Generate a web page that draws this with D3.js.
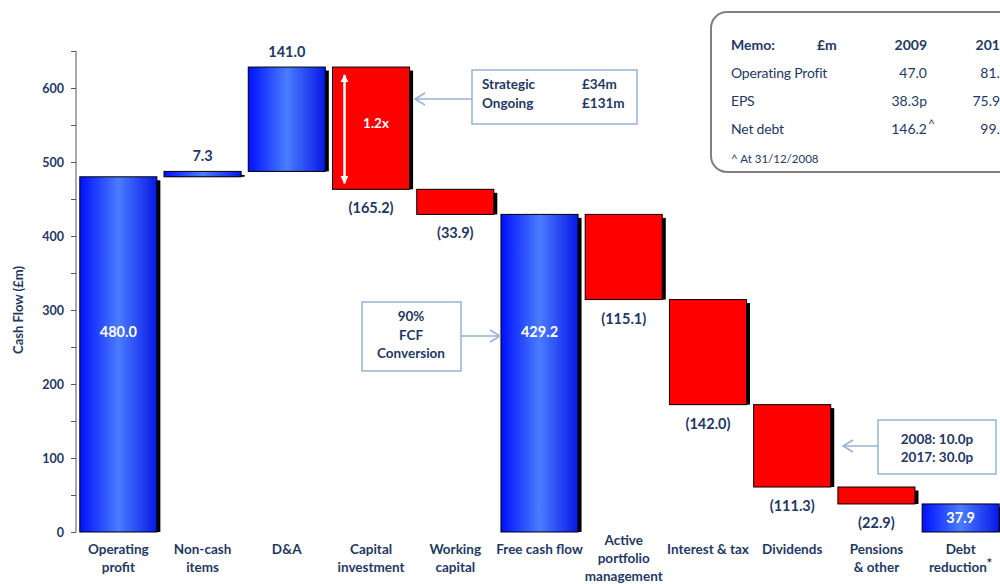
<!DOCTYPE html>
<html>
<head>
<meta charset="utf-8">
<script src="https://cdn.jsdelivr.net/npm/d3@7"></script>
<style>
  body{margin:0;background:#fff;}
  svg{display:block;}
  text{font-family:Lato,"Open Sans",sans-serif;}
</style>
</head>
<body>
<svg id="root"></svg>
<script>
var width = 1000;
var height = 584;
var navy = '#1f3864';

// chart data
var categories = [['Operating','profit'],['Non-cash','items'],['D&A'],['Capital','investment'],['Working','capital'],
  ['Free cash flow'],['Active','portfolio','management'],['Interest & tax'],['Dividends'],['Pensions','& other'],['Debt','reduction']];
var values = [480.0, 7.3, 141.0, -165.2, -33.9, 429.2, -115.1, -142.0, -111.3, -22.9, 37.9];
var isTotal = [true, false, false, false, false, true, false, false, false, false, true];
var yTicks = [0,100,200,300,400,500,600];

// memo table
var memoRows = ['Operating Profit','EPS','Net debt'];
var memo2009 = ['47.0','38.3p','146.2'];
var memo2017 = ['81.3','75.9p','99.0'];

// callouts
var capexNotes = [['Strategic','£34m'],['Ongoing','£131m']];
var fcfNote = ['90%','FCF','Conversion'];
var divNote = ['2008: 10.0p','2017: 30.0p'];

var svg = d3.select('#root').attr('width',width).attr('height',height)

// build waterfall steps
var steps = [];
var running = 0;
values.forEach(function(v,i){
  var s, e;
  if(isTotal[i]){ s = 0; e = v; running = v; }
  else { s = running; e = running + v; running = e; }
  steps.push({i:i, v:v, lo:Math.min(s,e), hi:Math.max(s,e), total:isTotal[i]});
});

var x = d3.scaleBand().domain(d3.range(categories.length)).range([76,1003]).paddingInner(0.085).paddingOuter(0.045);
var y = d3.scaleLinear().domain([0,650]).range([532,51]);

var defs = svg.append('defs');
var grad = defs.append('linearGradient').attr('id','blueGrad').attr('x1','0').attr('x2','1').attr('y1','0').attr('y2','0');
grad.append('stop').attr('offset','0%').attr('stop-color','#0010ff');
grad.append('stop').attr('offset','50%').attr('stop-color','#4a7cff');
grad.append('stop').attr('offset','100%').attr('stop-color','#0818e6');

var mk = defs.append('marker').attr('id','whiteHead').attr('viewBox','0 0 10 10').attr('refX',9).attr('refY',5)
  .attr('markerWidth',3.2).attr('markerHeight',3.2).attr('orient','auto-start-reverse').attr('markerUnits','strokeWidth');
mk.append('path').attr('d','M0,0 L10,5 L0,10 Z').attr('fill','#fff');

// y axis
var yaxis = d3.axisLeft(y).tickValues(d3.range(0,651,50)).tickSize(5).tickFormat(function(d){ return yTicks.indexOf(d) >= 0 ? d : ''; });
var ag = svg.append('g').attr('transform','translate(76,0)').call(yaxis);
ag.select('.domain').attr('stroke','#555').attr('d','M0,51V532');
ag.selectAll('.tick line').attr('stroke','#555');
ag.selectAll('.tick text').attr('fill',navy).attr('font-size',12.5).attr('font-weight','bold').attr('font-family','Lato').attr('x',-12);

svg.append('text').attr('transform','translate(23,310) rotate(-90)').attr('text-anchor','middle')
  .attr('font-size',13).attr('font-weight','bold').attr('fill',navy).text('Cash Flow (£m)');

// bars: shadow then bar
var bars = svg.append('g');
bars.selectAll('rect.shadow').data(steps).enter().append('rect').attr('class','shadow')
  .attr('x',function(d){ return x(d.i)+3.5; })
  .attr('y',function(d){ return y(d.hi)+3.5; })
  .attr('width',x.bandwidth())
  .attr('height',function(d){ return Math.max(0,y(d.lo)-y(d.hi)-3.5); })
  .attr('fill','#000');
bars.selectAll('rect.bar').data(steps).enter().append('rect').attr('class','bar')
  .attr('x',function(d){ return x(d.i); })
  .attr('y',function(d){ return y(d.hi); })
  .attr('width',x.bandwidth())
  .attr('height',function(d){ return y(d.lo)-y(d.hi); })
  .attr('fill',function(d){ return d.v < 0 ? '#ff0000' : 'url(#blueGrad)'; })
  .attr('stroke','#000').attr('stroke-width',1);

// value labels
var fmt = function(v){ return v < 0 ? '(' + Math.abs(v).toFixed(1) + ')' : v.toFixed(1); };
svg.append('g').selectAll('text').data(steps).enter().append('text')
  .attr('x',function(d){ return x(d.i)+x.bandwidth()/2; })
  .attr('y',function(d){
    if(d.total){
      var h = y(d.lo)-y(d.hi);
      return h > 100 ? y(270) + 5 : (y(d.lo)+y(d.hi))/2 + 5;
    }
    if(d.v < 0) return y(d.lo) + 24;
    return y(d.hi) - 10;
  })
  .attr('text-anchor','middle').attr('font-size',14.5).attr('font-weight','bold')
  .attr('fill',function(d){ return d.total ? '#fff' : navy; })
  .text(function(d){ return fmt(d.v); });

// category labels
var cat = svg.append('g').selectAll('text').data(categories).enter().append('text')
  .attr('text-anchor','middle').attr('font-size',13.5).attr('font-weight','bold').attr('fill',navy)
  .attr('transform',function(d,i){ return 'translate(' + (x(i)+x.bandwidth()/2) + ',' + (554 - Math.max(0,d.length-2)*9) + ')'; });
cat.selectAll('tspan').data(function(d){ return d; }).enter().append('tspan')
  .attr('x',0).attr('dy',function(d,j){ return j ? 18 : 0; }).text(function(d){ return d; });
cat.filter(function(d,i){ return i == categories.length-1; }).select('tspan:last-child')
  .append('tspan').attr('dy',-4).text('*');

// 1.2x arrow in capex bar
var cx = x(3)+12;
svg.append('line').attr('x1',cx).attr('x2',cx).attr('y1',y(steps[3].hi)+8).attr('y2',y(steps[3].lo)-6)
  .attr('stroke','#fff').attr('stroke-width',2.5).attr('marker-start','url(#whiteHead)').attr('marker-end','url(#whiteHead)');
svg.append('text').attr('x',x(3)+x.bandwidth()/2+5).attr('y',128).attr('text-anchor','middle')
  .attr('font-size',13.5).attr('font-weight','bold').attr('fill','#fff').text('1.2x');

// callout helper
var calloutColor = '#95b3d7';
function callout(bx,by,bw,bh,ax,ay){
  svg.append('rect').attr('x',bx).attr('y',by).attr('width',bw).attr('height',bh)
    .attr('fill','#fff').attr('stroke',calloutColor).attr('stroke-width',1.5);
  var tipRight = ax < bx;
  var from = tipRight ? bx : bx+bw;
  svg.append('line').attr('x1',from).attr('x2',ax).attr('y1',ay).attr('y2',ay).attr('stroke',calloutColor).attr('stroke-width',1.5);
  var dir = tipRight ? 1 : -1;
  svg.append('path').attr('d','M'+(ax+dir*10)+','+(ay-6)+'L'+ax+','+ay+'L'+(ax+dir*10)+','+(ay+6))
    .attr('fill','none').attr('stroke',calloutColor).attr('stroke-width',1.5);
}

callout(472,70,165,54,415,99);
svg.append('g').selectAll('text').data(capexNotes).enter().append('g')
  .each(function(d,i){
    d3.select(this).append('text').attr('x',482).attr('y',89+i*19).attr('font-size',13.5).attr('font-weight','bold').attr('fill',navy).text(d[0]);
    d3.select(this).append('text').attr('x',582).attr('y',89+i*19).attr('font-size',13.5).attr('font-weight','bold').attr('fill',navy).text(d[1]);
  });

callout(362,302,99,69,500,336);
svg.append('g').selectAll('text').data(fcfNote).enter().append('text')
  .attr('x',411).attr('y',function(d,i){ return 321+i*18.5; }).attr('text-anchor','middle')
  .attr('font-size',13.5).attr('font-weight','bold').attr('fill',navy).text(function(d){ return d; });

callout(878,420,118,54,843,446);
svg.append('g').selectAll('text').data(divNote).enter().append('text')
  .attr('x',937).attr('y',function(d,i){ return 444+i*18; }).attr('text-anchor','middle')
  .attr('font-family','"Liberation Sans",Arial,sans-serif')
  .attr('font-size',13.5).attr('font-weight','bold').attr('fill',navy).text(function(d){ return d; });

// memo box (right side runs past the page edge, as in the source slide)
var memo = svg.append('g');
memo.append('rect').attr('x',711).attr('y',12).attr('width',320).attr('height',160).attr('rx',16)
  .attr('fill','#fff').attr('stroke','#7f7f7f').attr('stroke-width',2);
var arial = '"Liberation Sans",Arial,sans-serif';
memo.append('text').attr('x',731).attr('y',50).attr('font-family',arial).attr('font-size',14).attr('font-weight','bold').attr('fill',navy).text('Memo:');
memo.append('text').attr('x',817).attr('y',50).attr('font-family',arial).attr('font-size',14).attr('font-weight','bold').attr('fill',navy).text('£m');
memo.append('text').attr('x',927).attr('y',50).attr('text-anchor','end').attr('font-family',arial).attr('font-size',14).attr('font-weight','bold').attr('fill',navy).text('2009');
memo.append('text').attr('x',1008).attr('y',50).attr('text-anchor','end').attr('font-family',arial).attr('font-size',14).attr('font-weight','bold').attr('fill',navy).text('2017');
memoRows.forEach(function(r,i){
  var yy = 78 + i*28;
  memo.append('text').attr('x',731).attr('y',yy).attr('font-family',arial).attr('font-size',14).attr('letter-spacing',-0.2).attr('fill',navy).text(r);
  memo.append('text').attr('x',927).attr('y',yy).attr('text-anchor','end').attr('font-family',arial).attr('font-size',14).attr('fill',navy).text(memo2009[i]);
  memo.append('text').attr('x',1008).attr('y',yy).attr('text-anchor','end').attr('font-family',arial).attr('font-size',14).attr('fill',navy).text(memo2017[i]);
});
memo.append('text').attr('x',928).attr('y',128).attr('font-family',arial).attr('font-size',12).attr('fill',navy).text('^');
memo.append('text').attr('x',731).attr('y',163).attr('font-size',11.5).attr('fill',navy).text('^ At 31/12/2008');
</script>
</body>
</html>
